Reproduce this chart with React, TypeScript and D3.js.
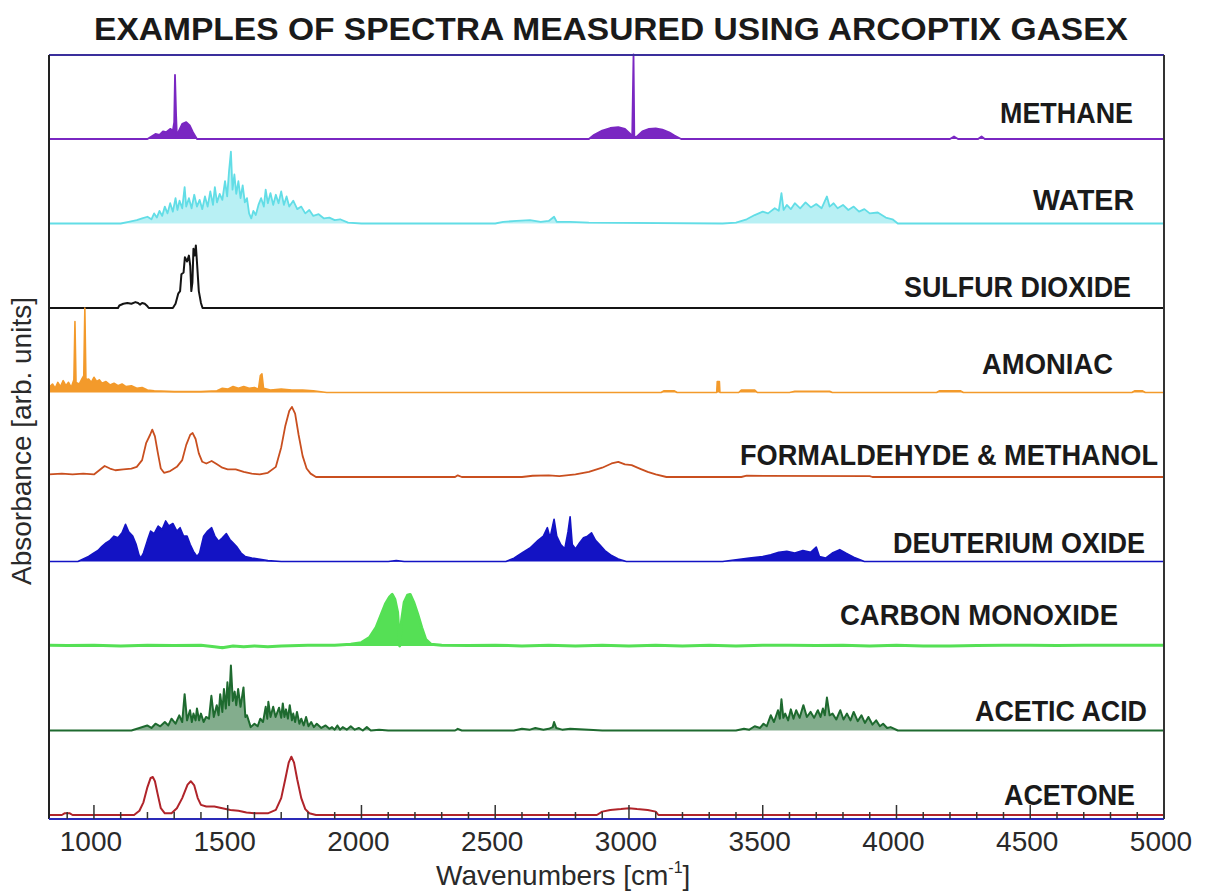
import * as d3 from 'd3';

type Pt = [number, number];

// wavenumber [cm-1], absorbance as a fraction of one panel height
const methane: Pt[] = [
  [832, 0], [1200, 0], [1215, 0.03], [1230, 0.06], [1245, 0.05], [1258, 0.09], [1270, 0.08],
  [1285, 0.12], [1295, 0.1], [1300, 0.2], [1303, 0.76], [1307, 0.3], [1310, 0.04], [1318, 0.1],
  [1330, 0.18], [1345, 0.2], [1358, 0.16], [1370, 0.08], [1385, 0], [2850, 0], [2870, 0.05],
  [2900, 0.1], [2930, 0.13], [2960, 0.14], [2985, 0.12], [3005, 0.06], [3012, 0.02], [3017, 1.0],
  [3020, 0.02], [3030, 0.03], [3050, 0.09], [3075, 0.12], [3100, 0.125], [3125, 0.11],
  [3150, 0.08], [3170, 0.04], [3195, 0], [4200, 0], [4215, 0.03], [4230, 0], [4305, 0],
  [4318, 0.03], [4330, 0], [5000, 0],
];

const water: Pt[] = [
  [832, 0], [1100, 0], [1130, 0.02], [1160, 0.04], [1180, 0.06], [1200, 0.08], [1215, 0.05],
  [1225, 0.12], [1235, 0.07], [1245, 0.15], [1255, 0.09], [1265, 0.2], [1275, 0.12], [1285, 0.24],
  [1295, 0.14], [1305, 0.3], [1312, 0.16], [1320, 0.27], [1330, 0.18], [1339, 0.43], [1345, 0.2],
  [1355, 0.3], [1365, 0.18], [1375, 0.34], [1385, 0.2], [1395, 0.28], [1405, 0.17], [1415, 0.32],
  [1425, 0.2], [1435, 0.38], [1445, 0.22], [1452, 0.43], [1460, 0.25], [1470, 0.35], [1480, 0.28],
  [1490, 0.5], [1498, 0.32], [1505, 0.62], [1512, 0.85], [1518, 0.4], [1525, 0.58], [1532, 0.35],
  [1540, 0.5], [1548, 0.3], [1556, 0.45], [1564, 0.25], [1572, 0.3], [1580, 0.12], [1588, 0.06],
  [1596, 0.15], [1605, 0.1], [1615, 0.22], [1625, 0.3], [1635, 0.2], [1642, 0.4], [1650, 0.24],
  [1660, 0.36], [1670, 0.22], [1680, 0.34], [1690, 0.24], [1700, 0.38], [1710, 0.22], [1720, 0.32],
  [1730, 0.2], [1745, 0.27], [1760, 0.17], [1775, 0.2], [1790, 0.12], [1805, 0.16], [1820, 0.09],
  [1840, 0.11], [1860, 0.06], [1880, 0.07], [1900, 0.04], [1920, 0.05], [1950, 0.01], [2000, 0],
  [2500, 0], [2530, 0.02], [2580, 0.03], [2630, 0.04], [2670, 0.02], [2700, 0.03], [2720, 0.08],
  [2730, 0.02], [2780, 0.02], [2850, 0.01], [3350, 0], [3400, 0.01], [3440, 0.05], [3470, 0.1],
  [3500, 0.14], [3520, 0.12], [3545, 0.18], [3560, 0.15], [3570, 0.36], [3578, 0.16], [3590, 0.22],
  [3605, 0.17], [3620, 0.24], [3640, 0.18], [3660, 0.25], [3680, 0.19], [3700, 0.23], [3720, 0.18],
  [3740, 0.32], [3750, 0.2], [3765, 0.24], [3780, 0.18], [3800, 0.22], [3820, 0.16], [3840, 0.2],
  [3860, 0.14], [3880, 0.17], [3900, 0.12], [3930, 0.13], [3960, 0.07], [3985, 0.05], [4005, 0],
  [5000, 0],
];

const sulfurDioxide: Pt[] = [
  [832, 0], [1090, 0], [1095, 0.03], [1110, 0.05], [1125, 0.06], [1140, 0.05], [1155, 0.07],
  [1165, 0.06], [1172, 0.04], [1180, 0.06], [1190, 0.05], [1200, 0.02], [1205, 0], [1295, 0],
  [1305, 0.05], [1315, 0.17], [1322, 0.2], [1327, 0.4], [1335, 0.42], [1340, 0.6], [1348, 0.55],
  [1355, 0.62], [1360, 0.5], [1364, 0.2], [1368, 0.3], [1372, 0.7], [1377, 0.62], [1381, 0.74],
  [1386, 0.5], [1392, 0.2], [1400, 0.06], [1406, 0], [5000, 0],
];

const amoniac: Pt[] = [
  [832, 0.06], [845, 0.1], [855, 0.05], [865, 0.12], [875, 0.07], [885, 0.14], [895, 0.08],
  [905, 0.12], [915, 0.06], [925, 0.15], [929, 0.84], [933, 0.12], [945, 0.1], [955, 0.16],
  [962, 0.2], [966, 1.0], [970, 0.15], [980, 0.16], [990, 0.12], [1000, 0.18], [1010, 0.13],
  [1020, 0.15], [1030, 0.11], [1045, 0.13], [1060, 0.09], [1075, 0.11], [1090, 0.08], [1105, 0.1],
  [1120, 0.07], [1140, 0.08], [1160, 0.05], [1180, 0.06], [1200, 0.03], [1225, 0.02], [1300, 0.01],
  [1400, 0.01], [1460, 0.02], [1480, 0.05], [1500, 0.04], [1520, 0.07], [1540, 0.05], [1560, 0.07],
  [1580, 0.05], [1600, 0.06], [1615, 0.04], [1622, 0.2], [1628, 0.22], [1634, 0.05], [1660, 0.03],
  [1700, 0.04], [1740, 0.03], [1780, 0.03], [1820, 0.02], [1870, 0], [3120, 0], [3130, 0.02],
  [3170, 0.02], [3180, 0], [3328, 0], [3330, 0.13], [3338, 0.13], [3340, 0], [3410, 0],
  [3420, 0.03], [3470, 0.03], [3480, 0], [3600, 0], [3620, 0.015], [3750, 0.015], [3760, 0],
  [4150, 0], [4160, 0.02], [4240, 0.02], [4250, 0], [4880, 0], [4890, 0.02], [4920, 0.02],
  [4930, 0], [5000, 0],
];

const formaldehydeMethanol: Pt[] = [
  [832, 0.03], [880, 0.04], [920, 0.03], [960, 0.04], [1000, 0.03], [1020, 0.08], [1040, 0.13],
  [1060, 0.1], [1080, 0.08], [1110, 0.09], [1140, 0.1], [1160, 0.12], [1180, 0.2], [1195, 0.4],
  [1210, 0.5], [1218, 0.56], [1228, 0.48], [1238, 0.3], [1250, 0.1], [1262, 0.05], [1285, 0.07],
  [1310, 0.12], [1330, 0.2], [1345, 0.38], [1360, 0.5], [1369, 0.52], [1380, 0.45], [1392, 0.28],
  [1405, 0.18], [1420, 0.16], [1440, 0.19], [1460, 0.15], [1480, 0.11], [1500, 0.09], [1530, 0.09],
  [1560, 0.06], [1590, 0.04], [1620, 0.03], [1650, 0.05], [1680, 0.12], [1700, 0.35], [1715, 0.6],
  [1730, 0.78], [1740, 0.83], [1752, 0.75], [1765, 0.5], [1780, 0.25], [1795, 0.1], [1810, 0.04],
  [1830, 0], [2350, 0], [2360, 0.02], [2375, 0], [2600, 0], [2640, 0.015], [2700, 0.02],
  [2740, 0.01], [2800, 0.03], [2850, 0.06], [2900, 0.11], [2935, 0.16], [2960, 0.18], [2985, 0.15],
  [3010, 0.14], [3040, 0.1], [3070, 0.06], [3100, 0.03], [3140, 0], [3420, 0], [3440, 0.015],
  [3900, 0.01], [3910, 0], [5000, 0],
];

const deuteriumOxide: Pt[] = [
  [832, 0], [940, 0], [960, 0.03], [980, 0.06], [1000, 0.1], [1015, 0.13], [1030, 0.18],
  [1045, 0.22], [1060, 0.25], [1075, 0.3], [1090, 0.28], [1105, 0.34], [1118, 0.44], [1130, 0.35],
  [1145, 0.3], [1158, 0.2], [1168, 0.08], [1175, 0.04], [1185, 0.1], [1200, 0.25], [1212, 0.36],
  [1225, 0.33], [1240, 0.42], [1255, 0.38], [1268, 0.48], [1280, 0.42], [1295, 0.45], [1310, 0.36],
  [1322, 0.4], [1335, 0.3], [1348, 0.3], [1360, 0.2], [1372, 0.12], [1385, 0.06], [1395, 0.1],
  [1410, 0.3], [1425, 0.36], [1440, 0.4], [1452, 0.3], [1466, 0.24], [1480, 0.28], [1495, 0.33],
  [1508, 0.26], [1520, 0.22], [1535, 0.17], [1550, 0.1], [1565, 0.06], [1590, 0.04], [1615, 0.03],
  [1650, 0.01], [1700, 0], [2100, 0], [2130, 0.01], [2160, 0], [2540, 0], [2570, 0.04],
  [2600, 0.1], [2630, 0.16], [2660, 0.25], [2680, 0.3], [2695, 0.4], [2705, 0.28], [2720, 0.5],
  [2730, 0.3], [2745, 0.2], [2760, 0.15], [2772, 0.35], [2780, 0.53], [2788, 0.2], [2800, 0.15],
  [2815, 0.22], [2830, 0.28], [2845, 0.3], [2860, 0.34], [2875, 0.25], [2890, 0.2], [2910, 0.13],
  [2935, 0.07], [2960, 0.03], [2990, 0], [3350, 0], [3400, 0.02], [3450, 0.04], [3500, 0.06],
  [3530, 0.08], [3560, 0.11], [3590, 0.12], [3620, 0.1], [3650, 0.13], [3680, 0.11], [3700, 0.17],
  [3712, 0.06], [3735, 0.04], [3760, 0.1], [3788, 0.14], [3810, 0.1], [3840, 0.05], [3880, 0],
  [5000, 0],
];

const carbonMonoxide: Pt[] = [
  [832, 0.01], [900, 0.005], [1000, 0.01], [1100, 0], [1200, 0.01], [1300, 0.005], [1400, 0.01],
  [1450, -0.01], [1480, -0.02], [1520, 0], [1560, -0.01], [1600, 0], [1650, -0.01], [1700, 0],
  [1800, 0.01], [1900, 0.01], [1960, 0.02], [2000, 0.04], [2030, 0.1], [2055, 0.22], [2075, 0.38],
  [2090, 0.5], [2105, 0.58], [2115, 0.61], [2125, 0.55], [2135, 0.4], [2143, 0], [2150, 0.3],
  [2160, 0.52], [2172, 0.6], [2182, 0.61], [2195, 0.52], [2210, 0.38], [2225, 0.22], [2240, 0.08],
  [2260, 0.02], [2300, 0.01], [2400, 0.005], [2500, 0.01], [2600, 0], [2700, 0.01], [2800, 0],
  [2900, 0.01], [3000, 0], [3100, 0.01], [3200, 0], [3300, 0.01], [3400, 0], [3500, 0.01],
  [3600, 0.01], [3700, 0.005], [3800, 0.01], [3900, 0], [4000, 0.01], [4100, 0], [4200, 0],
  [4300, 0.005], [4400, 0.01], [4500, 0.01], [4600, 0.005], [4700, 0.01], [4800, 0.01],
  [4900, 0.01], [5000, 0.01],
];

const aceticAcid: Pt[] = [
  [832, 0], [1140, 0], [1170, 0.03], [1199, 0.06], [1215, 0.03], [1230, 0.08], [1248, 0.05],
  [1265, 0.1], [1278, 0.06], [1290, 0.14], [1305, 0.08], [1319, 0.18], [1330, 0.1], [1339, 0.43],
  [1348, 0.12], [1359, 0.24], [1366, 0.1], [1372, 0.2], [1380, 0.12], [1385, 0.26], [1393, 0.12],
  [1400, 0.2], [1410, 0.1], [1419, 0.16], [1430, 0.14], [1439, 0.41], [1448, 0.16], [1459, 0.3],
  [1466, 0.18], [1472, 0.43], [1480, 0.22], [1486, 0.49], [1493, 0.26], [1499, 0.57], [1505, 0.3],
  [1512, 0.77], [1519, 0.35], [1526, 0.46], [1532, 0.3], [1539, 0.49], [1548, 0.28], [1559, 0.51],
  [1566, 0.16], [1572, 0.18], [1586, 0.04], [1600, 0.08], [1612, 0.05], [1622, 0.14], [1632, 0.1],
  [1642, 0.28], [1648, 0.14], [1652, 0.34], [1660, 0.16], [1670, 0.28], [1679, 0.16], [1692, 0.27],
  [1700, 0.15], [1706, 0.32], [1712, 0.16], [1718, 0.25], [1725, 0.14], [1732, 0.3], [1740, 0.12],
  [1745, 0.2], [1752, 0.1], [1759, 0.22], [1768, 0.08], [1775, 0.14], [1784, 0.06], [1793, 0.16],
  [1802, 0.05], [1812, 0.1], [1822, 0.04], [1833, 0.08], [1850, 0.03], [1866, 0.06], [1880, 0.02],
  [1890, 0.04], [1900, 0.01], [1910, 0.06], [1920, 0.01], [1930, 0.04], [1945, 0.01], [1960, 0.05],
  [1975, 0.01], [1990, 0.03], [2005, 0], [2020, 0.04], [2035, 0], [2066, 0.01], [2100, 0],
  [2350, 0], [2360, 0.02], [2375, 0], [2570, 0], [2600, 0.02], [2630, 0.01], [2650, 0.03],
  [2680, 0.01], [2700, 0.02], [2715, 0.04], [2720, 0.1], [2728, 0.03], [2750, 0.01], [2780, 0.02],
  [2850, 0.01], [2900, 0], [3400, 0], [3430, 0.02], [3450, 0.01], [3470, 0.05], [3490, 0.03],
  [3503, 0.08], [3515, 0.05], [3530, 0.18], [3542, 0.1], [3557, 0.24], [3564, 0.14], [3570, 0.37],
  [3577, 0.15], [3584, 0.2], [3595, 0.12], [3605, 0.25], [3615, 0.14], [3625, 0.24], [3638, 0.15],
  [3652, 0.3], [3665, 0.16], [3679, 0.22], [3692, 0.15], [3706, 0.24], [3716, 0.16], [3725, 0.26],
  [3732, 0.18], [3740, 0.39], [3750, 0.18], [3761, 0.2], [3775, 0.13], [3790, 0.24], [3802, 0.13],
  [3815, 0.2], [3828, 0.12], [3840, 0.22], [3855, 0.11], [3869, 0.18], [3882, 0.09], [3895, 0.16],
  [3910, 0.07], [3924, 0.12], [3938, 0.05], [3950, 0.08], [3965, 0.03], [3978, 0.04], [4005, 0],
  [5000, 0],
];

const acetone: Pt[] = [
  [832, 0], [880, 0], [890, 0.02], [910, 0.02], [920, 0], [1150, 0], [1170, 0.05], [1185, 0.15],
  [1200, 0.33], [1212, 0.44], [1220, 0.45], [1228, 0.4], [1238, 0.25], [1250, 0.08], [1265, 0.02],
  [1290, 0.02], [1310, 0.08], [1330, 0.2], [1350, 0.36], [1362, 0.4], [1375, 0.35], [1388, 0.2],
  [1400, 0.12], [1420, 0.1], [1450, 0.1], [1480, 0.08], [1510, 0.06], [1540, 0.05], [1570, 0.03],
  [1600, 0.02], [1650, 0.02], [1680, 0.06], [1700, 0.2], [1715, 0.42], [1728, 0.62], [1738, 0.69],
  [1748, 0.62], [1760, 0.42], [1775, 0.2], [1790, 0.07], [1805, 0.02], [1830, 0], [2880, 0],
  [2900, 0.04], [2930, 0.06], [2970, 0.07], [3000, 0.08], [3030, 0.07], [3070, 0.06], [3100, 0.04],
  [3110, 0], [5000, 0],
];

const names = [
  'METHANE', 'WATER', 'SULFUR DIOXIDE', 'AMONIAC', 'FORMALDEHYDE & METHANOL',
  'DEUTERIUM OXIDE', 'CARBON MONOXIDE', 'ACETIC ACID', 'ACETONE',
];
const seriesData = [
  methane, water, sulfurDioxide, amoniac, formaldehydeMethanol,
  deuteriumOxide, carbonMonoxide, aceticAcid, acetone,
];
const majorTicks = [1000, 1500, 2000, 2500, 3000, 3500, 4000, 4500, 5000];
const minorTicks = d3.range(900, 5000, 100).filter((t) => t % 500 !== 0);

// styling
const colors = ['#7a27c2', '#62dde6', '#141414', '#f39a2b', '#c94f1f', '#1313c4', '#55e055', '#1e6a2f', '#b0242a'];
const fillOpacity = [1, 0.45, 0, 1, 0, 1, 1, 0.55, 0];
const widths = [1.8, 1.8, 2, 1.6, 1.8, 1.6, 3, 2, 2];
// label right edge (px), rise above panel baseline (px), label width (px)
const labelBox: [number, number, number][] = [
  [1133, 16, 133], [1134, 14, 101], [1131, 11, 227], [1113, 19, 131], [1158, 12, 418],
  [1145, 9, 252], [1118, 21, 278], [1147, 10, 172], [1135, 10, 131],
];

const W = 1206;
const H = 893;
const plot = { left: 49, right: 1164, top: 55, bottom: 819 };
const firstBase = 139;
const panelH = 84.5;
const font = "'Liberation Sans', Arial, sans-serif";

export default function App() {
  const x = d3.scaleLinear().domain([832, 5000]).range([plot.left, plot.right]);

  return (
    <svg width={W} height={H} style={{ position: 'absolute', left: 0, top: 0, background: '#fff' }}>
      <text
        x={611}
        y={40}
        textAnchor="middle"
        fontFamily={font}
        fontWeight="bold"
        fontSize={31}
        fill="#1a1a1a"
        textLength={1034}
        lengthAdjust="spacingAndGlyphs"
      >
        EXAMPLES OF SPECTRA MEASURED USING ARCOPTIX GASEX
      </text>

      {seriesData.map((data, i) => {
        const base = firstBase + i * panelH;
        const y = d3.scaleLinear().domain([0, 1]).range([base, base - panelH]);
        const line = d3.line<Pt>().x((d) => x(d[0])).y((d) => y(d[1]));
        const area = d3.area<Pt>().x((d) => x(d[0])).y0(y(0)).y1((d) => y(d[1]));
        const [rx, rise, lw] = labelBox[i];
        return (
          <g key={names[i]}>
            {fillOpacity[i] > 0 && (
              <path d={area(data) ?? ''} fill={colors[i]} fillOpacity={fillOpacity[i]} stroke="none" />
            )}
            <path d={line(data) ?? ''} fill="none" stroke={colors[i]} strokeWidth={widths[i]} strokeLinejoin="round" />
            <text
              x={rx - lw}
              y={base - rise}
              fontFamily={font}
              fontWeight="bold"
              fontSize={29}
              fill="#1a1a1a"
              textLength={lw}
              lengthAdjust="spacingAndGlyphs"
            >
              {names[i]}
            </text>
          </g>
        );
      })}

      {/* frame */}
      <line x1={plot.left} x2={plot.right} y1={plot.top} y2={plot.top} stroke="#3a2f9c" strokeWidth={2} />
      <line x1={plot.left} x2={plot.left} y1={plot.top} y2={plot.bottom} stroke="#222" strokeWidth={2} />
      <line x1={plot.right} x2={plot.right} y1={plot.top} y2={plot.bottom} stroke="#333" strokeWidth={2} />
      <line x1={plot.left} x2={plot.right} y1={plot.bottom} y2={plot.bottom} stroke="#2a2ab8" strokeWidth={2} />

      {minorTicks.map((t) => (
        <line key={`m${t}`} x1={x(t)} x2={x(t)} y1={plot.bottom} y2={plot.bottom - 7} stroke="#333" strokeWidth={1.5} />
      ))}
      {majorTicks.map((t) => (
        <g key={`M${t}`}>
          <line x1={x(t)} x2={x(t)} y1={plot.bottom} y2={plot.bottom - 14} stroke="#333" strokeWidth={1.5} />
          <text x={x(t) - 3} y={851} textAnchor="middle" fontFamily={font} fontSize={28} fill="#2a2a2a">
            {t}
          </text>
        </g>
      ))}

      <text x={436} y={885} fontFamily={font} fontSize={28} fill="#2a2a2a">
        Wavenumbers [cm
        <tspan fontSize={16} dy={-12}>
          -1
        </tspan>
        <tspan dy={12}>]</tspan>
      </text>

      <text
        transform="translate(31,441) rotate(-90)"
        textAnchor="middle"
        fontFamily={font}
        fontSize={28}
        fill="#2a2a2a"
      >
        Absorbance [arb. units]
      </text>
    </svg>
  );
}
